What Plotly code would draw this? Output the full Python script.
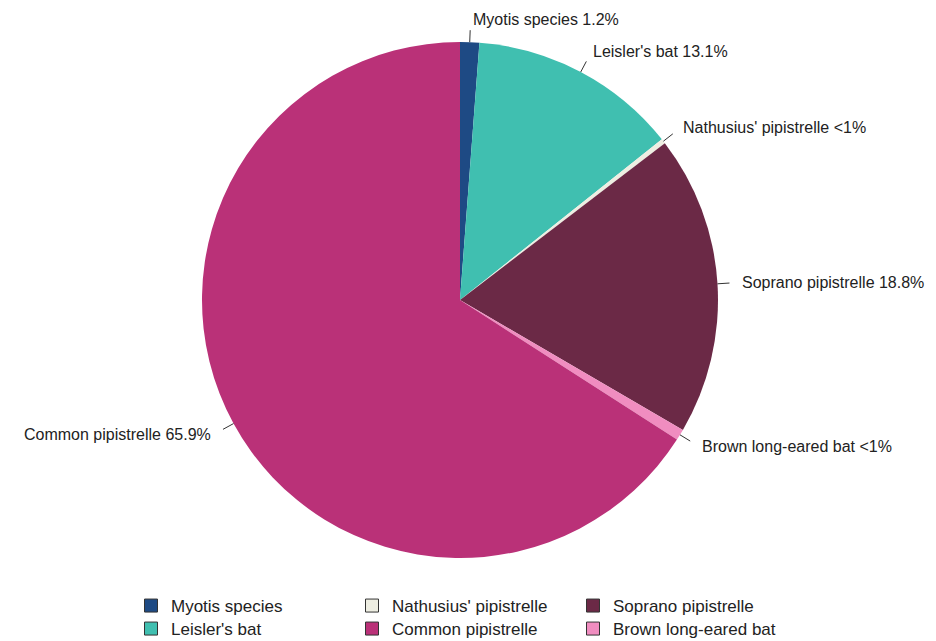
import math
import plotly.graph_objects as go

# Species recorded and their share of bat passes (%)
species = ["Myotis species", "Leisler's bat", "Nathusius' pipistrelle",
           "Soprano pipistrelle", "Brown long-eared bat", "Common pipistrelle"]
shares = [1.2, 13.1, 0.3, 18.8, 0.7, 65.9]
colours = ["#1E4A84", "#40BFB0", "#EEEEE2", "#6B2946", "#F08DC0", "#BA3178"]

# Legend layout: two rows of three entries
legend_rows = [
    ["Myotis species", "Nathusius' pipistrelle", "Soprano pipistrelle"],
    ["Leisler's bat", "Common pipistrelle", "Brown long-eared bat"],
]

W, H = 936, 641
CX, CY, R = 460, 300, 258  # pie centre and radius in pixels

fig = go.Figure()
fig.add_trace(go.Pie(
    labels=species, values=shares, sort=False, direction="clockwise",
    rotation=0, marker=dict(colors=colours, line=dict(width=0)),
    textinfo="none", hoverinfo="label+percent", showlegend=False,
    domain=dict(x=[(CX - R) / W, (CX + R) / W],
                y=[1 - (CY + R) / H, 1 - (CY - R) / H]),
))

colour_of = dict(zip(species, colours))
for row, names in enumerate(legend_rows):
    lg = "legend" if row == 0 else "legend2"
    for name in names:
        fig.add_trace(go.Scatter(
            x=[None], y=[None], mode="markers", name=name, legend=lg,
            marker=dict(symbol="square", size=13, color=colour_of[name],
                        line=dict(color="#333333", width=1)),
        ))


def to_paper(px, py):
    return px / W, 1 - py / H


# Outside labels with short radial leader lines
shapes, annotations = [], []
total = sum(shares)
cum = 0.0
for name, v in zip(species, shares):
    mid = (cum + v / 2) / total * 2 * math.pi
    cum += v
    s, c = math.sin(mid), math.cos(mid)
    x0, y0 = to_paper(CX + R * s, CY - R * c)
    x1, y1 = to_paper(CX + (R + 12) * s, CY - (R + 12) * c)
    shapes.append(dict(type="line", xref="paper", yref="paper",
                       x0=x0, y0=y0, x1=x1, y1=y1,
                       line=dict(color="#333333", width=1)))
    tx, ty = to_paper(CX + (R + 23) * s, CY - (R + 23) * c)
    pct = "<1%" if v < 1 else f"{v:.1f}%"
    annotations.append(dict(
        x=tx, y=ty, xref="paper", yref="paper", showarrow=False,
        text=f"{name} {pct}".replace("<", "&lt;"),
        xanchor="left" if s >= 0 else "right", yanchor="middle",
        font=dict(size=16, color="#222222"),
    ))

legend_common = dict(orientation="h", xanchor="left", yanchor="middle",
                     entrywidth=176, entrywidthmode="pixels",
                     font=dict(size=17, color="#222222"),
                     bgcolor="rgba(0,0,0,0)", itemclick=False,
                     itemdoubleclick=False)

fig.update_layout(
    width=W, height=H,
    margin=dict(l=0, r=0, t=0, b=0, autoexpand=False),
    paper_bgcolor="white", plot_bgcolor="white",
    font=dict(family="Liberation Sans, Arial, sans-serif"),
    xaxis=dict(visible=False), yaxis=dict(visible=False),
    shapes=shapes, annotations=annotations,
    legend=dict(x=131 / W, y=1 - 606 / H, **legend_common),
    legend2=dict(x=131 / W, y=1 - 629 / H, **legend_common),
)

fig.write_html("out.html")
